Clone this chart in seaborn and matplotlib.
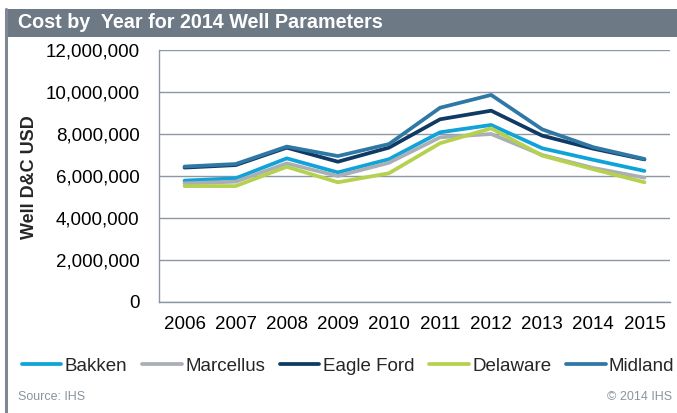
import matplotlib
matplotlib.use("Agg")
import matplotlib.pyplot as plt
from matplotlib.patches import Rectangle
from matplotlib.lines import Line2D
import seaborn as sns
import pandas as pd
import numpy as np

# ---- data (values in USD) ----
years = [2006, 2007, 2008, 2009, 2010, 2011, 2012, 2013, 2014, 2015]
bakken = [5.78, 5.89, 6.84, 6.17, 6.80, 8.08, 8.43, 7.32, 6.77, 6.24]
marcellus = [5.65, 5.73, 6.60, 6.00, 6.63, 7.84, 8.00, 7.00, 6.38, 5.92]
eagle_ford = [6.40, 6.52, 7.35, 6.68, 7.35, 8.70, 9.11, 7.92, 7.30, 6.79]
delaware = [5.52, 5.52, 6.44, 5.70, 6.13, 7.56, 8.27, 6.97, 6.32, 5.70]
midland = [6.45, 6.57, 7.40, 6.95, 7.52, 9.25, 9.86, 8.22, 7.37, 6.81]
series_names = ["Bakken", "Marcellus", "Eagle Ford", "Delaware", "Midland"]
y_ticks = [0, 2_000_000, 4_000_000, 6_000_000, 8_000_000, 10_000_000, 12_000_000]
title = "Cost by  Year for 2014 Well Parameters"
y_label = "Well D&C USD"
source = "Source: IHS"
copyright_txt = "\u00a9 2014 IHS"

colors = {
    "Bakken": "#0fa3d9",
    "Marcellus": "#a9afb5",
    "Eagle Ford": "#0f3a64",
    "Delaware": "#b6d14f",
    "Midland": "#2f78a6",
}

rows = []
for name, vals in zip(series_names, [bakken, marcellus, eagle_ford, delaware, midland]):
    for yr, v in zip(years, vals):
        rows.append({"Year": yr, "Cost": v * 1_000_000, "Region": name})
df = pd.DataFrame(rows)

sns.set_theme(style="white")
plt.rcParams["font.family"] = ["Liberation Sans", "DejaVu Sans"]

W, H = 677, 413
fig = plt.figure(figsize=(W / 100, H / 100), dpi=100)
fig.patch.set_facecolor("white")

# title bar and frame
bar_col = "#6e7986"
fig.patches.append(Rectangle((7 / W, 1 - 37 / H), 1 - 7 / W, 28 / H,
                             transform=fig.transFigure, facecolor=bar_col,
                             edgecolor="none", zorder=0))
fig.lines.append(Line2D([6 / W, 6 / W], [0, 1 - 9 / H], transform=fig.transFigure,
                        color="#7d8894", lw=2.2))
fig.text(18 / W, 1 - 22.5 / H, title, color="white", fontsize=14.2,
         fontweight="bold", va="center", ha="left")

ax = fig.add_axes([159 / W, (H - 302) / H, 511 / W, 252 / H])
sns.lineplot(data=df, x="Year", y="Cost", hue="Region", hue_order=series_names,
             palette=colors, linewidth=2.7, ax=ax, legend=True)

grid_col = "#8d97a1"
ax.set_ylim(0, 12_000_000)
ax.set_yticks(y_ticks)
ax.set_yticklabels([f"{v:,}" for v in y_ticks])
ax.set_xlim(years[0] - 0.5, years[-1] + 0.5)
ax.set_xticks(years)
ax.set_xticklabels([str(y) for y in years])
ax.set_xticks(np.arange(years[0] - 0.5, years[-1] + 1.0, 1.0), minor=True)
ax.tick_params(axis="x", which="major", length=0, pad=10, labelsize=13.5, colors="black")
ax.tick_params(axis="x", which="minor", length=4, direction="in", color=grid_col, width=1)
ax.tick_params(axis="y", length=0, pad=14, labelsize=13.5, colors="black")
ax.yaxis.grid(True, color=grid_col, lw=1)
ax.xaxis.grid(False)
ax.set_axisbelow(True)
for s in ["top", "right"]:
    ax.spines[s].set_visible(False)
for s in ["left", "bottom"]:
    ax.spines[s].set_color(grid_col)
    ax.spines[s].set_linewidth(1)
ax.set_xlabel("")
ax.set_ylabel("")
fig.text(30 / W, 1 - 177 / H, y_label, rotation=90, fontsize=13,
         fontweight="bold", va="center", ha="center")

sns.move_legend(ax, loc="center left", bbox_to_anchor=(22 / W, 1 - 366 / H),
                bbox_transform=fig.transFigure, ncol=5, frameon=False, title=None,
                fontsize=13.5, handlelength=2.1, handletextpad=0.18,
                columnspacing=0.8, borderpad=0, borderaxespad=0)

fig.text(18 / W, 1 - 397 / H, source, color="#8a949e", fontsize=9, va="center", ha="left")
fig.text(672 / W, 1 - 397 / H, copyright_txt, color="#8a949e", fontsize=9,
         va="center", ha="right")

fig.savefig("out.png", dpi=100)
